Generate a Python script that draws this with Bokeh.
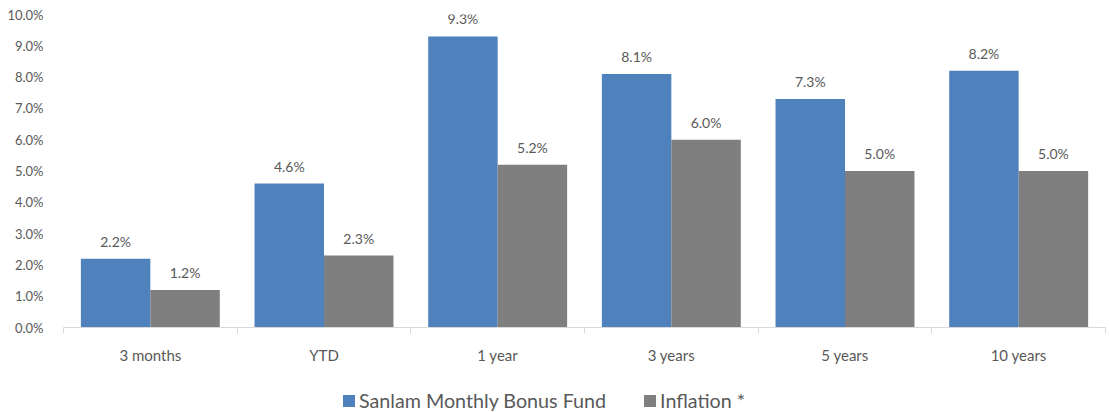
from bokeh.plotting import figure
from bokeh.layouts import column
from bokeh.models import (ColumnDataSource, FixedTicker, PrintfTickFormatter,
                          Legend, LegendItem, Range1d)
from bokeh.core.properties import value
from bokeh.embed import file_html
from bokeh.resources import INLINE

categories = ["3 months", "YTD", "1 year", "3 years", "5 years", "10 years"]
fund = [2.2, 4.6, 9.3, 8.1, 7.3, 8.2]
inflation = [1.2, 2.3, 5.2, 6.0, 5.0, 5.0]
series_names = ["Sanlam Monthly Bonus Fund", "Inflation *"]
colors = ["#4F81BD", "#7F7F7F"]
y_ticks = [0, 1, 2, 3, 4, 5, 6, 7, 8, 9, 10]

FONT = "Lato"
TXT = "#595959"

centers = [i + 0.5 for i in range(len(categories))]
bw = 0.4
src_f = ColumnDataSource(dict(x=[c - bw / 2 for c in centers], y=fund,
                              lab=["%.1f%%" % v for v in fund]))
src_i = ColumnDataSource(dict(x=[c + bw / 2 for c in centers], y=inflation,
                              lab=["%.1f%%" % v for v in inflation]))

p = figure(width=1109, height=373, output_backend="svg", toolbar_location=None,
           x_range=Range1d(0, len(categories)), y_range=Range1d(0, 10),
           min_border_left=63, min_border_right=4, min_border_top=14,
           min_border_bottom=46)
p.outline_line_color = None
p.xgrid.visible = False
p.ygrid.visible = False

p.vbar(x="x", top="y", width=bw, source=src_f, fill_color=colors[0], line_color=None)
p.vbar(x="x", top="y", width=bw, source=src_i, fill_color=colors[1], line_color=None)

for src in (src_f, src_i):
    p.text(x="x", y="y", text="lab", source=src, text_align="center",
           text_baseline="bottom", y_offset=-9, text_color=TXT,
           text_font=value(FONT), text_font_size="14px")

# y axis
p.yaxis.ticker = FixedTicker(ticks=y_ticks)
p.yaxis.formatter = PrintfTickFormatter(format="%.1f%%")
p.yaxis.axis_line_color = None
p.yaxis.major_tick_line_color = None
p.yaxis.minor_tick_line_color = None
p.yaxis.major_label_text_color = TXT
p.yaxis.major_label_text_font = FONT
p.yaxis.major_label_text_font_size = "13px"
p.yaxis.major_label_standoff = 14

# x axis
p.xaxis.ticker = FixedTicker(ticks=centers, minor_ticks=list(range(len(categories) + 1)))
p.xaxis.major_label_overrides = {c: n for c, n in zip(centers, categories)}
p.xaxis.axis_line_color = "#D9D9D9"
p.xaxis.major_tick_out = 0
p.xaxis.major_tick_in = 0
p.xaxis.minor_tick_out = 6
p.xaxis.minor_tick_in = 0
p.xaxis.minor_tick_line_color = "#D9D9D9"
p.xaxis.major_label_text_color = TXT
p.xaxis.major_label_text_font = FONT
p.xaxis.major_label_text_font_size = "15px"
p.xaxis.major_label_standoff = 12

# legend strip below the chart (series renderers kept hidden, legend only)
pl = figure(width=1109, height=39, output_backend="svg", toolbar_location=None,
            x_range=Range1d(0, 1), y_range=Range1d(0, 1),
            x_axis_location=None, y_axis_location=None, min_border=0)
pl.outline_line_color = None
pl.xgrid.visible = False
pl.ygrid.visible = False
l1 = pl.vbar(x="x", top="y", width=bw, source=src_f, fill_color=colors[0],
             line_color=None, visible=False)
l2 = pl.vbar(x="x", top="y", width=bw, source=src_i, fill_color=colors[1],
             line_color=None, visible=False)

legend = Legend(items=[LegendItem(label=series_names[0], renderers=[l1]),
                       LegendItem(label=series_names[1], renderers=[l2])],
                orientation="horizontal", location=(278, 0),
                glyph_width=15, glyph_height=15, spacing=36, label_standoff=3,
                label_text_font=FONT, label_text_font_size="19.7px",
                label_text_color=TXT, border_line_color=None,
                background_fill_alpha=0, padding=0, margin=0)
pl.add_layout(legend, "center")

layout = column(p, pl, spacing=0)
open("out.html", "w").write(file_html(layout, INLINE))
